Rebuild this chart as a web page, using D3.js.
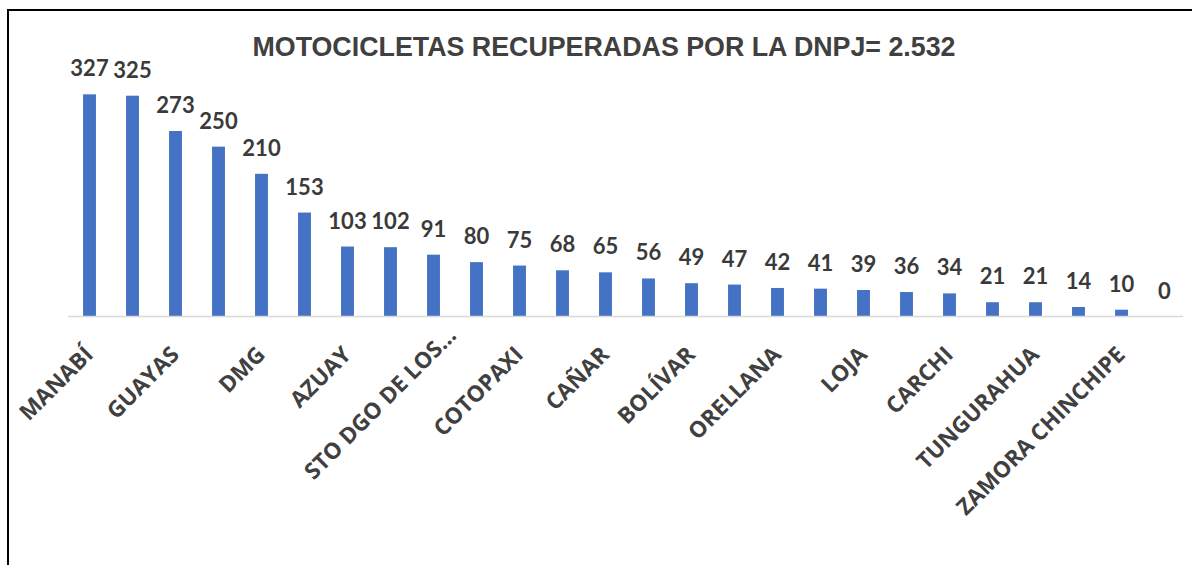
<!DOCTYPE html>
<html>
<head>
<meta charset="utf-8">
<script src="https://cdn.jsdelivr.net/npm/d3@7"></script>
<style>
  html, body { margin: 0; padding: 0; background: #ffffff; }
  svg { display: block; }
</style>
</head>
<body>
<svg id="chart" width="1192" height="565"></svg>
<script>
// ---- data ----
const title = "MOTOCICLETAS RECUPERADAS POR LA DNPJ= 2.532";
const categories = [
  "MANABÍ", "LOS RÍOS", "GUAYAS", "EL ORO", "DMG", "ESMERALDAS", "AZUAY",
  "PICHINCHA", "STO DGO DE LOS…", "SANTA ELENA", "COTOPAXI", "CHIMBORAZO",
  "CAÑAR", "IMBABURA", "BOLÍVAR", "SUCUMBÍOS", "ORELLANA", "MORONA SANTIAGO",
  "LOJA", "NAPO", "CARCHI", "PASTAZA", "TUNGURAHUA", "DMQ",
  "ZAMORA CHINCHIPE", "GALÁPAGOS"
];
const values = [327, 325, 273, 250, 210, 153, 103, 102, 91, 80, 75, 68, 65,
                56, 49, 47, 42, 41, 39, 36, 34, 21, 21, 14, 10, 0];
// Excel shows every other category label
const shownLabels = categories.filter((d, i) => i % 2 === 0);
const yDomain = [0, 350];

// ---- drawing ----
const svg = d3.select("#chart");

// outer chart frame (extends past the right and bottom edges)
svg.append("rect")
  .attr("x", 8).attr("y", 10)
  .attr("width", 1200).attr("height", 600)
  .attr("fill", "#ffffff")
  .attr("stroke", "#000000")
  .attr("stroke-width", 2);

const x = d3.scaleBand()
  .domain(categories)
  .range([68, 1186])
  .paddingInner(0.7)
  .paddingOuter(0.35);

const y = d3.scaleLinear()
  .domain(yDomain)
  .range([316.5, 78.7]);

// title
svg.append("text")
  .attr("x", 604)
  .attr("y", 56)
  .attr("text-anchor", "middle")
  .attr("font-family", "'Liberation Sans', Arial, sans-serif")
  .attr("font-weight", "bold")
  .attr("font-size", 26.8)
  .attr("fill", "#404040")
  .text(title);

// bars
svg.append("g")
  .selectAll("rect")
  .data(values)
  .join("rect")
  .attr("x", (d, i) => x(categories[i]))
  .attr("y", d => y(d))
  .attr("width", x.bandwidth())
  .attr("height", d => y(0) - y(d))
  .attr("fill", "#4472C4");

// category axis
const xAxis = d3.axisBottom(x)
  .tickValues(shownLabels)
  .tickSize(0)
  .tickPadding(0);

const gx = svg.append("g")
  .attr("transform", `translate(0,${y(0)})`)
  .call(xAxis);

gx.select(".domain")
  .attr("d", "M68,0H1183")
  .attr("stroke", "#d9d9d9")
  .attr("stroke-width", 1.5);

gx.selectAll(".tick text")
  .attr("font-family", "'Open Sans', 'Noto Sans', sans-serif")
  .attr("font-weight", "bold")
  .attr("font-size", 22.5)
  .attr("fill", "#404040")
  .attr("text-anchor", "end")
  .attr("dy", null)
  .attr("y", null)
  .attr("transform", d => {
    const shift = d.endsWith("…") ? 19 : 0;
    return `translate(${5 + shift},${39.5 - shift}) rotate(-45)`;
  });

// data labels
svg.append("g")
  .selectAll("text")
  .data(values)
  .join("text")
  .attr("x", (d, i) => x(categories[i]) + x.bandwidth() / 2)
  .attr("y", d => y(d) - 18)
  .attr("text-anchor", "middle")
  .attr("font-family", "Lato, 'Open Sans', sans-serif")
  .attr("font-weight", "bold")
  .attr("font-size", 22)
  .attr("fill", "#3a3a3a")
  .text(d => d);
</script>
</body>
</html>
